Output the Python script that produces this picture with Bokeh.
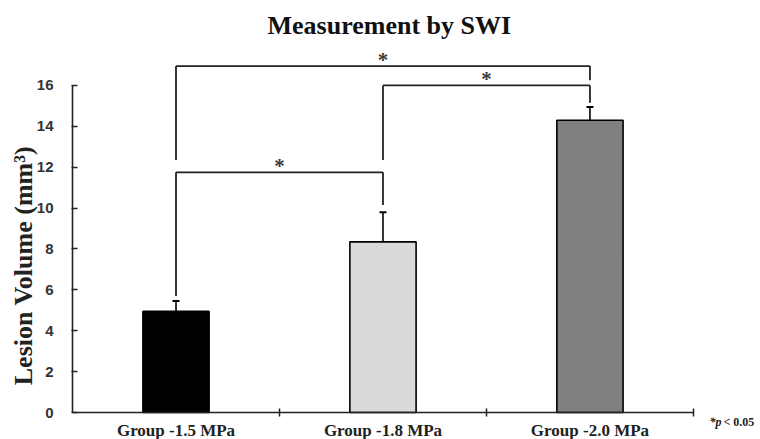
import math
from bokeh.plotting import figure
from bokeh.models import ColumnDataSource, Whisker, TeeHead, FixedTicker, Range1d
from bokeh.embed import file_html
from bokeh.resources import INLINE
from bokeh.core.properties import value

# ---- data ----
groups = ["Group -1.5 MPa", "Group -1.8 MPa", "Group -2.0 MPa"]
volumes = [4.95, 8.35, 14.3]
errors = [0.5, 1.45, 0.65]
colors = ["#000000", "#d9d9d9", "#808080"]
y_ticks = [0, 2, 4, 6, 8, 10, 12, 14, 16]

# significance brackets: (group a, group b, bracket level, leg end a, leg end b)
br_a = [0, 0, 1]
br_b = [1, 2, 2]
br_level = [11.75, 16.95, 16.0]
br_end_a = [5.7, 12.35, 12.35]
br_end_b = [10.15, 16.25, 15.15]

xs = [i + 0.5 for i in range(len(groups))]

p = figure(width=760, height=439, output_backend="svg", toolbar_location=None,
           x_range=Range1d(-0.348, 3.324), y_range=Range1d(-1.32, 18.2),
           min_border=0, min_border_left=0, min_border_right=0, min_border_top=40,
           min_border_bottom=0)
p.outline_line_color = None
p.grid.grid_line_color = None
p.background_fill_color = "white"

p.title.text = "Measurement by SWI"
p.title.align = "left"
p.title.offset = 267
p.title.standoff = 2
p.title.text_font = "Liberation Serif"
p.title.text_font_size = "26px"
p.title.text_font_style = "bold"
p.title.text_color = "#111111"

src = ColumnDataSource(dict(x=xs, top=volumes, upper=[v + e for v, e in zip(volumes, errors)],
                            color=colors))
p.vbar(x="x", top="top", bottom=0, width=0.32, fill_color="color", line_color="black",
       line_width=1.6, source=src)

w = Whisker(source=src, base="x", lower="top", upper="upper", line_color="black", line_width=1.6,
            upper_head=TeeHead(size=7, line_color="black", line_width=2), lower_head=None)
p.add_layout(w)

# brackets
sx0, sy0, sx1, sy1 = [], [], [], []
for a, b, lv, ea, eb in zip(br_a, br_b, br_level, br_end_a, br_end_b):
    xa, xb = xs[a], xs[b]
    sx0 += [xa, xa, xb]
    sy0 += [lv, lv, lv]
    sx1 += [xb, xa, xb]
    sy1 += [lv, ea, eb]
p.segment(x0=sx0, y0=sy0, x1=sx1, y1=sy1, line_color="#222222", line_width=1.8)

star_x = [(xs[a] + xs[b]) / 2 for a, b in zip(br_a, br_b)]
p.text(x=star_x, y=br_level, text=["*"] * len(star_x), text_align="center",
       text_baseline="middle", y_offset=-6, text_font=value("Liberation Serif"),
       text_font_size="21px", text_font_style="bold", text_color="#3a3a3a")

# axes (drawn at the data origin)
p.yaxis.fixed_location = 0
p.yaxis.ticker = FixedTicker(ticks=y_ticks)
p.yaxis.bounds = (0, 16)
p.yaxis.axis_line_width = 1.6
p.yaxis.axis_line_color = "#222222"
p.yaxis.major_tick_in = 5
p.yaxis.major_tick_out = 1
p.yaxis.major_tick_line_width = 1.5
p.yaxis.major_tick_line_color = "#222222"
p.yaxis.minor_tick_line_color = None
p.yaxis.major_label_text_font = "Liberation Sans"
p.yaxis.major_label_text_font_style = "bold"
p.yaxis.major_label_text_font_size = "15px"
p.yaxis.major_label_text_color = "#333333"
p.yaxis.major_label_standoff = 18

p.xaxis.fixed_location = 0
p.xaxis.ticker = FixedTicker(ticks=xs, minor_ticks=[1, 2, 3])
p.xaxis.bounds = (0, 3)
p.xaxis.major_label_overrides = {x: g for x, g in zip(xs, groups)}
p.xaxis.axis_line_width = 1.6
p.xaxis.axis_line_color = "#222222"
p.xaxis.major_tick_line_color = None
p.xaxis.minor_tick_in = 4
p.xaxis.minor_tick_out = 4
p.xaxis.minor_tick_line_width = 1.5
p.xaxis.minor_tick_line_color = "#222222"
p.xaxis.major_label_text_font = "Liberation Serif"
p.xaxis.major_label_text_font_style = "bold"
p.xaxis.major_label_text_font_size = "17px"
p.xaxis.major_label_text_color = "#222222"
p.xaxis.major_label_standoff = 2

# y-axis title
p.text(x=[0], y=[7.19], text=["Lesion Volume (mm³)"], angle=math.pi / 2, x_offset=-49,
       text_align="center", text_baseline="middle", text_font=value("Liberation Serif"),
       text_font_size="26px", text_font_style="bold", text_color="#222222")

# footnote
p.text(x=[3], y=[0], text=["*p"], x_offset=16, y_offset=9, text_align="left",
       text_baseline="middle", text_font=value("Liberation Serif"), text_font_size="12px",
       text_font_style="bold italic", text_color="#222222")
p.text(x=[3], y=[0], text=["< 0.05"], x_offset=30, y_offset=9, text_align="left",
       text_baseline="middle", text_font=value("Liberation Serif"), text_font_size="12px",
       text_font_style="bold", text_color="#222222")

open("out.html", "w").write(file_html(p, INLINE))
